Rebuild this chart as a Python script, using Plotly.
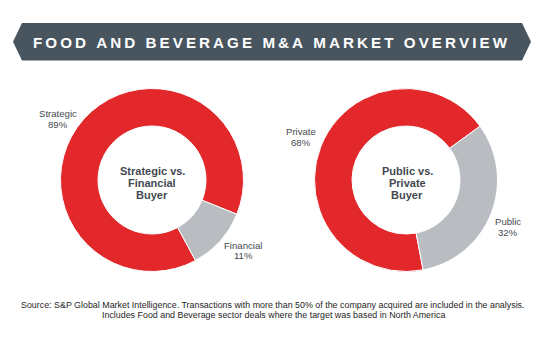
import plotly.graph_objects as go

W, H = 541, 340

# ---- data ----
title_text = "FOOD AND BEVERAGE M&A MARKET OVERVIEW"
buyer_type_cats = ["Strategic", "Financial"]
buyer_type_vals = [89, 11]
buyer_type_center = ["Strategic vs.", "Financial", "Buyer"]
listing_cats = ["Private", "Public"]
listing_vals = [68, 32]
listing_center = ["Public vs.", "Private", "Buyer"]
footer_lines = [
    "Source: S&P Global Market Intelligence. Transactions with more than 50% of the company acquired are included in the analysis.",
    "Includes Food and Beverage sector deals where the target was based in North America",
]

RED = "#e2282a"
GREY = "#b9bdc1"
BANNER = "#48555f"
TXT = "#434950"
FONT = "Liberation Sans, Arial, sans-serif"


def px(x):
    return x / W


def py(y):
    return 1 - y / H


def dom(cx, cy, r):
    return dict(x=[px(cx - r), px(cx + r)], y=[py(cy + r), py(cy - r)])


fig = go.Figure()

pies = [
    (buyer_type_cats, buyer_type_vals, (152, 180), 151.6),
    (listing_cats, listing_vals, (406, 180), 169.2),
]
for cats, vals, (cx, cy), rot in pies:
    fig.add_trace(go.Pie(
        labels=cats, values=vals, sort=False, direction="clockwise",
        rotation=rot, hole=0.59, domain=dom(cx, cy, 91.5),
        marker=dict(colors=[RED, GREY], line=dict(color="white", width=1)),
        textinfo="none", hoverinfo="label+percent", showlegend=False,
    ))

ann = []
# outside labels (name + value)
label_pos = [
    [(58, 114, 124), (243, 245.5, 255.5)],
    [(301, 131.5, 142.5), (508, 221, 232)],
]
for (cats, vals, _, _), poss in zip(pies, label_pos):
    for c, v, (x, y1, y2) in zip(cats, vals, poss):
        ann.append(dict(x=px(x), y=py(y1), text=c))
        ann.append(dict(x=px(x), y=py(y2), text=f"{v}%"))
label_ann = [dict(a, xref="paper", yref="paper", showarrow=False,
                  xanchor="center", yanchor="middle",
                  font=dict(family=FONT, size=9.6, color=TXT)) for a in ann]

# center titles
center_ann = []
for lines, cx in [(buyer_type_center, 152), (listing_center, 407)]:
    for i, line in enumerate(lines):
        center_ann.append(dict(
            x=px(cx), y=py(171 + 12 * i), text=line, xref="paper", yref="paper",
            showarrow=False, xanchor="center", yanchor="middle",
            font=dict(family=FONT, size=11, color=TXT, weight="bold")))

# footer
footer_ann = []
for i, line in enumerate(footer_lines):
    footer_ann.append(dict(
        x=px(273), y=py(305 + 9.5 * i), text=line, xref="paper", yref="paper",
        showarrow=False, xanchor="center", yanchor="middle",
        font=dict(family=FONT, size=8.9, color="#262626")))

# title banner
spaced = "\u2009".join(title_text)
title_ann = [dict(
    x=px(270), y=py(42), text=spaced, xref="paper", yref="paper",
    showarrow=False, xanchor="center", yanchor="middle",
    font=dict(family=FONT, size=15.2, color="white", weight="bold"))]

pts = [(13, 41.7), (22, 23), (522, 23), (531, 41.7), (522, 60.5), (22, 60.5)]
path = "M " + " L ".join(f"{px(x):.5f},{py(y):.5f}" for x, y in pts) + " Z"
shapes = [dict(type="path", xref="paper", yref="paper", path=path,
               fillcolor=BANNER, line=dict(width=0), layer="below")]

fig.update_layout(
    width=W, height=H, margin=dict(l=0, r=0, t=0, b=0),
    paper_bgcolor="white", plot_bgcolor="white",
    annotations=label_ann + center_ann + footer_ann + title_ann,
    shapes=shapes,
)

fig.write_html("out.html")
